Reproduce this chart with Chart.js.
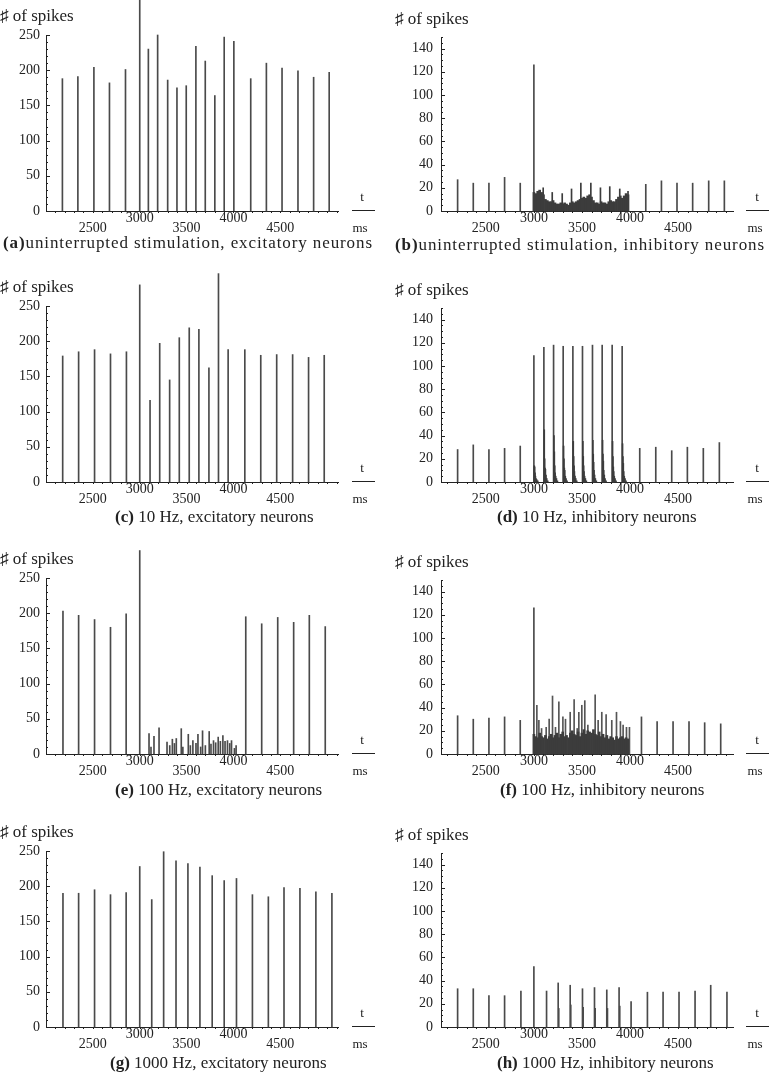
<!DOCTYPE html>
<html lang="en">
<head>
    <meta charset="UTF-8">
    <title>Spike histograms</title>
    <script src="https://cdn.jsdelivr.net/npm/chart.js"></script>
    <style>
        body { margin: 0; background: #fff; width: 777px; height: 1074px; position: relative; overflow: hidden;
               font-family: 'Liberation Serif', 'Times New Roman', serif; color: #222; }
        canvas { position: absolute; }
        .lbl { position: absolute; white-space: nowrap; line-height: 20px; }
        .ylab { font-size: 17px; }
        .cap { font-size: 17px; }
        .unit { font-size: 13px; transform: translateX(-50%); }
        .tline { position: absolute; height: 0; border-top: 1.5px solid #222; width: 23px; }
    </style>
</head>
<body>

<script>
    // shared tick values
    const xTickLabels = [2500, 3000, 3500, 4000, 4500];
    const yTicksExc = [0, 50, 100, 150, 200, 250];
    const yTicksInh = [0, 20, 40, 60, 80, 100, 120, 140];

    // (a) uninterrupted stimulation, excitatory
    const aTimes = [2175, 2340, 2511, 2677, 2848, 3000, 3092, 3191, 3298, 3397, 3496, 3599, 3699, 3801, 3901, 4004, 4184, 4351, 4518, 4688, 4855, 5021];
    const aCounts = [188, 191, 204, 182, 201, 300, 230, 250, 186, 175, 178, 234, 213, 164, 247, 241, 188, 210, 203, 199, 190, 197];

    // (b) uninterrupted stimulation, inhibitory
    const bTimes = [2206, 2369, 2532, 2695, 2858, 3000, 4165, 4328, 4490, 4653, 4820, 4983];
    const bCounts = [27, 24, 24, 29, 24, 126, 23, 26, 24, 24, 26, 26];
    const bPeakTimes = [3097, 3191, 3295, 3392, 3489, 3593, 3693, 3790, 3894, 3980];
    const bPeakCounts = [20, 16, 15, 19, 24, 24, 20, 21, 19, 17];
    const denseBins = [3000, 3020, 3040, 3060, 3080, 3100, 3120, 3140, 3160, 3180,
                       3200, 3220, 3240, 3260, 3280, 3300, 3320, 3340, 3360, 3380,
                       3400, 3420, 3440, 3460, 3480, 3500, 3520, 3540, 3560, 3580,
                       3600, 3620, 3640, 3660, 3680, 3700, 3720, 3740, 3760, 3780,
                       3800, 3820, 3840, 3860, 3880, 3900, 3920, 3940, 3960, 3980];
    const bDense = [16, 15, 17, 18, 16, 14, 10, 9, 8, 8, 9, 7, 6, 6, 7, 6, 7, 6, 5, 7,
                    8, 7, 8, 9, 10, 11, 12, 11, 13, 14, 12, 9, 7, 7, 6, 8, 7, 7, 6, 8,
                    9, 8, 8, 10, 12, 13, 11, 13, 15, 14];

    // (c) 10 Hz, excitatory
    const cTimes = [2178, 2348, 2518, 2688, 2858, 3000, 3110, 3213, 3319, 3422, 3528, 3631, 3738, 3840, 3943, 4121, 4291, 4461, 4631, 4801, 4968];
    const cCounts = [179, 185, 188, 182, 185, 280, 116, 197, 145, 205, 219, 217, 162, 296, 188, 188, 180, 181, 181, 177, 180];

    // (d) 10 Hz, inhibitory
    const dTimes = [2206, 2369, 2532, 2695, 2858, 4102, 4269, 4435, 4598, 4764, 4931];
    const dCounts = [28, 32, 28, 29, 31, 29, 30, 27, 30, 29, 34];
    const dBurstTimes = [3000, 3104, 3205, 3305, 3406, 3506, 3610, 3711, 3815, 3919];
    const dBurstCounts = [109, 116, 118, 117, 117, 117, 118, 118, 118, 117];
    const dTailOffsets = [4, 8, 12, 16, 22, 30, 40];
    const dTails = [
        [14, 13, 8, 5, 3, 2, 1],
        [45, 20, 12, 11, 6, 3, 1],
        [40, 26, 14, 8, 5, 3, 1],
        [31, 20, 12, 10, 5, 3, 1],
        [35, 22, 14, 9, 5, 3, 1],
        [35, 22, 14, 9, 5, 3, 1],
        [36, 24, 17, 10, 6, 3, 1],
        [36, 24, 18, 10, 6, 3, 1],
        [35, 22, 13, 9, 5, 3, 1],
        [33, 22, 16, 9, 5, 3, 1]
    ];

    // (e) 100 Hz, excitatory
    const eTimes = [2181, 2348, 2518, 2688, 2855, 3000, 4131, 4301, 4472, 4642, 4809, 4979];
    const eCounts = [203, 197, 191, 180, 199, 289, 195, 185, 194, 187, 197, 181];
    const eStimTimes = [3099, 3152, 3206, 3291, 3348, 3390, 3443, 3518, 3567, 3621, 3670, 3741, 3787, 3837, 3887, 3936, 3979, 4028];
    const eStimCounts = [29, 25, 37, 17, 21, 22, 36, 28, 19, 28, 33, 32, 19, 24, 26, 19, 19, 12];
    const eLowTimes = [3120, 3320, 3370, 3460, 3540, 3600, 3650, 3700, 3760, 3810, 3860, 3910, 3960, 4010];
    const eLowCounts = [10, 12, 15, 10, 12, 15, 10, 12, 14, 16, 18, 18, 15, 8];

    // (f) 100 Hz, inhibitory
    const fTimes = [2206, 2369, 2532, 2695, 2858, 3000, 4120, 4283, 4449, 4615, 4778, 4945];
    const fCounts = [33, 30, 31, 32, 29, 126, 32, 28, 28, 28, 27, 26];
    const fPeakTimes = [3031, 3052, 3080, 3128, 3159, 3194, 3225, 3260, 3302, 3329, 3378, 3419, 3451, 3468,
                        3499, 3530, 3562, 3638, 3669, 3707, 3752, 3811, 3860, 3901, 3929, 3964, 3995];
    const fPeakCounts = [42, 29, 22, 23, 30, 50, 23, 45, 32, 30, 36, 47, 22, 36,
                         42, 46, 25, 51, 29, 36, 34, 29, 36, 28, 25, 23, 23];
    const fDense = [17, 15, 14, 18, 15, 14, 16, 13, 15, 17, 14, 16, 18, 14, 17, 19, 15, 16, 14, 18,
                    20, 17, 16, 19, 15, 18, 21, 17, 20, 19, 18, 21, 17, 16, 19, 15, 17, 14, 16, 13,
                    15, 14, 12, 15, 13, 14, 15, 13, 14, 13];

    // (g) 1000 Hz, excitatory
    const gTimes = [2181, 2348, 2518, 2688, 2855, 3000, 3128, 3255, 3387, 3514, 3642, 3773, 3901, 4032, 4202, 4372, 4539, 4709, 4879, 5050];
    const gCounts = [190, 190, 195, 188, 191, 228, 181, 249, 236, 232, 227, 215, 208, 211, 188, 185, 198, 197, 192, 190];

    // (h) 1000 Hz, inhibitory
    const hTimes = [2206, 2369, 2532, 2695, 2865, 3000, 3132, 3253, 3378, 3506, 3631, 3759, 3887, 4012, 4182, 4345, 4511, 4678, 4841, 5010];
    const hCounts = [33, 33, 27, 27, 31, 52, 31, 38, 36, 33, 34, 32, 34, 22, 30, 30, 30, 31, 36, 30];
    const hSecTimes = [3259, 3384, 3513, 3638, 3766, 3894];
    const hSecCounts = [16, 19, 17, 16, 16, 18];
</script>

<script>
    const SPIKE = '#4a4a4a';
    const DENSE = '#3c3c3c';

    function bars(times, counts, color, thick) {
        return {
            data: times.map((t, i) => ({ x: t, y: counts[i] })),
            backgroundColor: color,
            barThickness: thick,
            grouped: false,
            clip: false
        };
    }

    function tailBars() {
        const pts = [];
        dBurstTimes.forEach((t, i) => {
            dTailOffsets.forEach((o, j) => pts.push({ x: t + o, y: dTails[i][j] }));
        });
        return { data: pts, backgroundColor: DENSE, barThickness: 1, grouped: false, clip: false };
    }

    // small axis marks + staggered x labels
    const axisMarks = {
        id: 'axisMarks',
        afterDraw(chart, args, opts) {
            const { ctx, chartArea, scales: { x, y } } = chart;
            ctx.save();
            ctx.strokeStyle = '#222';
            ctx.lineWidth = 1;
            ctx.beginPath();
            for (let v = 0; v <= opts.yMax; v += opts.yMinor) {
                const py = Math.round(y.getPixelForValue(v)) + 0.5;
                const len = v % opts.yMajor === 0 ? 4 : 2;
                ctx.moveTo(chartArea.left, py);
                ctx.lineTo(chartArea.left + len, py);
            }
            for (let v = 2100; v < x.max; v += 100) {
                const px = Math.round(x.getPixelForValue(v)) + 0.5;
                ctx.moveTo(px, chartArea.bottom);
                ctx.lineTo(px, chartArea.bottom + 2);
            }
            ctx.stroke();
            ctx.fillStyle = '#222';
            ctx.font = '14px "Liberation Serif"';
            ctx.textAlign = 'center';
            ctx.textBaseline = 'middle';
            xTickLabels.forEach(v => {
                const off = v % 1000 === 0 ? 7.5 : 17;
                ctx.fillText(String(v), x.getPixelForValue(v), chartArea.bottom + off);
            });
            ctx.restore();
        }
    };

    const rowTops = [0, 271, 543, 816];

    const panels = [
        { key: 'a', col: 0, row: 0, bold: '(a)', text: 'uninterrupted stimulation, excitatory neurons', capX: 3, capY: 243, spacing: 0.9,
          sets: [bars(aTimes, aCounts, SPIKE, 1)] },
        { key: 'b', col: 1, row: 0, bold: '(b)', text: 'uninterrupted stimulation, inhibitory neurons', capX: 395, capY: 245, spacing: 0.9,
          sets: [bars(denseBins, bDense, DENSE, 2), bars(bPeakTimes, bPeakCounts, DENSE, 1), bars(bTimes, bCounts, SPIKE, 1)] },
        { key: 'c', col: 0, row: 1, bold: '(c)', text: ' 10 Hz, excitatory neurons', capX: 115, capY: 517,
          sets: [bars(cTimes, cCounts, SPIKE, 1)] },
        { key: 'd', col: 1, row: 1, bold: '(d)', text: ' 10 Hz, inhibitory neurons', capX: 497, capY: 517,
          sets: [tailBars(), bars(dBurstTimes, dBurstCounts, SPIKE, 1), bars(dTimes, dCounts, SPIKE, 1)] },
        { key: 'e', col: 0, row: 2, bold: '(e)', text: ' 100 Hz, excitatory neurons', capX: 115, capY: 790,
          sets: [bars(eLowTimes, eLowCounts, SPIKE, 1), bars(eStimTimes, eStimCounts, SPIKE, 1), bars(eTimes, eCounts, SPIKE, 1)] },
        { key: 'f', col: 1, row: 2, bold: '(f)', text: ' 100 Hz, inhibitory neurons', capX: 500, capY: 790,
          sets: [bars(denseBins, fDense, DENSE, 2), bars(fPeakTimes, fPeakCounts, '#555', 1), bars(fTimes, fCounts, SPIKE, 1)] },
        { key: 'g', col: 0, row: 3, bold: '(g)', text: ' 1000 Hz, excitatory neurons', capX: 110, capY: 1063,
          sets: [bars(gTimes, gCounts, SPIKE, 1)] },
        { key: 'h', col: 1, row: 3, bold: '(h)', text: ' 1000 Hz, inhibitory neurons', capX: 497, capY: 1063,
          sets: [bars(hSecTimes, hSecCounts, SPIKE, 1), bars(hTimes, hCounts, SPIKE, 1)] }
    ];

    function addLabel(cls, html, left, top) {
        const d = document.createElement('div');
        d.className = 'lbl ' + cls;
        d.innerHTML = html;
        d.style.left = left + 'px';
        d.style.top = top + 'px';
        document.body.appendChild(d);
        return d;
    }

    panels.forEach(p => {
        const left = p.col === 0 ? 0 : 390;
        const top = rowTops[p.row];
        const exc = p.col === 0;

        const cv = document.createElement('canvas');
        cv.width = exc ? 390 : 387;
        cv.height = 240;
        cv.style.left = left + 'px';
        cv.style.top = top + 'px';
        document.body.appendChild(cv);

        const yTicks = exc ? yTicksExc : yTicksInh;

        new Chart(cv, {
            type: 'bar',
            data: { datasets: p.sets },
            options: {
                responsive: false,
                animation: false,
                events: [],
                layout: { padding: { left: 0, top: exc ? 35 : 37, right: exc ? 52 : 44, bottom: 0 } },
                plugins: {
                    legend: { display: false },
                    tooltip: { enabled: false },
                    axisMarks: exc ? { yMax: 250, yMinor: 10, yMajor: 50 } : { yMax: 150, yMinor: 5, yMajor: 20 }
                },
                scales: {
                    x: {
                        type: 'linear',
                        min: exc ? 2000 : 2033,
                        max: exc ? 5115 : 5073,
                        offset: false,
                        grid: { display: false, drawTicks: false },
                        border: { display: true, color: '#222', width: 1 },
                        ticks: { display: false },
                        afterFit: s => { s.height = 29; }
                    },
                    y: {
                        min: 0,
                        max: exc ? 250 : 150,
                        grid: { display: false, drawTicks: false },
                        border: { display: true, color: '#222', width: 1 },
                        ticks: {
                            color: '#222',
                            padding: exc ? 6 : 8,
                            font: { family: 'Liberation Serif', size: 14 }
                        },
                        afterBuildTicks: s => { s.ticks = yTicks.map(v => ({ value: v })); },
                        afterFit: s => { s.width = exc ? 46 : 51; }
                    }
                }
            },
            plugins: [axisMarks]
        });

        // "# of spikes" axis label
        addLabel('ylab', '\u266F of spikes', exc ? 0 : 395, top + (exc ? 6 : 9));
        // t / ms unit mark
        const ux = exc ? 362 : 757;
        addLabel('unit', 't', ux, top + 187);
        addLabel('unit', 'ms', ux - 2, top + 218);
        const ln = document.createElement('div');
        ln.className = 'tline';
        ln.style.left = (exc ? 352 : 746) + 'px';
        ln.style.top = (top + 210) + 'px';
        document.body.appendChild(ln);
        // caption
        const cap = addLabel('cap', '<b>' + p.bold + '</b>' + p.text, p.capX, p.capY - 10);
        if (p.spacing) cap.style.letterSpacing = p.spacing + 'px';
    });
</script>
</body>
</html>
